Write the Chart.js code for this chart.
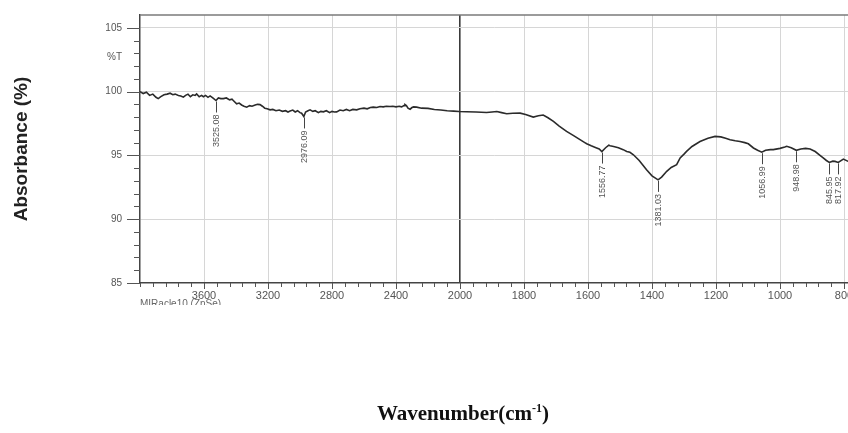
<!DOCTYPE html>
<html>
<head>
<meta charset="utf-8">
<script src="https://cdn.jsdelivr.net/npm/chart.js@4.4.0/dist/chart.umd.min.js"></script>
<style>
  html, body { margin: 0; padding: 0; background: #fff; }
  #ftirChart { display: block; }
</style>
</head>
<body>
<canvas id="ftirChart" width="848" height="433"></canvas>
<script>
// spectrum, high to low wavenumber (cm-1)
const wavenumbers = [
  4000, 3980, 3960, 3940, 3920, 3900, 3886, 3870, 3850, 3830,
  3812, 3795, 3780, 3760, 3745, 3729, 3715, 3700, 3685, 3670,
  3655, 3646, 3630, 3615, 3604, 3590, 3575, 3562, 3545, 3525.08,
  3510, 3495, 3479, 3460, 3440, 3425, 3417, 3396, 3380, 3365,
  3350, 3333, 3315, 3300, 3280, 3265, 3250, 3235, 3220, 3205,
  3187, 3170, 3150, 3130, 3110, 3090, 3075, 3062, 3045, 3030,
  3015, 3000, 2990, 2976.09, 2965, 2950, 2937, 2920, 2905, 2885,
  2870, 2854, 2835, 2815, 2800, 2785, 2771, 2750, 2730, 2710,
  2690, 2670, 2646, 2625, 2600, 2580, 2560, 2542, 2520, 2500,
  2480, 2460, 2437, 2420, 2400, 2380, 2365, 2350, 2344, 2335,
  2325, 2312, 2300, 2290, 2271, 2240, 2200, 2160, 2120, 2080,
  2040, 2006, 1980, 1950, 1917, 1900, 1885, 1870, 1854, 1835,
  1812, 1795, 1771, 1755, 1740, 1725, 1708, 1690, 1667, 1645,
  1625, 1610, 1604, 1590, 1575, 1565, 1556.77, 1545, 1535, 1531,
  1520, 1505, 1490, 1479, 1469, 1458, 1440, 1417, 1400, 1381.03,
  1370, 1354, 1340, 1323, 1312, 1300, 1292, 1275, 1250, 1225,
  1203, 1185, 1170, 1156, 1140, 1125, 1110, 1099, 1083, 1070,
  1056.99, 1045, 1030, 1021, 1000, 985, 979, 965, 948.98, 935,
  920, 906, 890, 875, 865, 855, 845.95, 835, 828, 817.92,
  802, 787
];
const transmittance = [
  100.0, 99.85, 99.95, 99.7, 99.8, 99.55, 99.45, 99.6, 99.75, 99.8,
  99.87, 99.75, 99.8, 99.7, 99.65, 99.56, 99.7, 99.8, 99.6, 99.75,
  99.7, 99.82, 99.6, 99.7, 99.6, 99.7, 99.55, 99.66, 99.5, 99.3,
  99.5, 99.45, 99.45, 99.5, 99.35, 99.4, 99.3, 99.04, 99.1, 98.95,
  98.85, 98.78, 98.9, 98.85, 98.95, 99.0, 98.98, 98.85, 98.7, 98.65,
  98.57, 98.6, 98.5, 98.55, 98.45, 98.5, 98.4, 98.47, 98.55, 98.4,
  98.5, 98.35, 98.3, 98.05, 98.4, 98.5, 98.57, 98.45, 98.5, 98.35,
  98.45, 98.41, 98.5, 98.35, 98.45, 98.4, 98.41, 98.55, 98.5, 98.6,
  98.5, 98.6, 98.57, 98.65, 98.7, 98.65, 98.75, 98.78, 98.75, 98.83,
  98.8, 98.85, 98.83, 98.85, 98.8, 98.85, 98.8, 98.9, 98.98, 98.9,
  98.7, 98.62, 98.75, 98.8, 98.78, 98.7, 98.68, 98.6, 98.55, 98.5,
  98.47, 98.44, 98.42, 98.4, 98.36, 98.4, 98.44, 98.35, 98.26, 98.3,
  98.31, 98.2, 98.0, 98.1, 98.16, 97.95, 97.66, 97.3, 96.88, 96.55,
  96.23, 96.0, 95.91, 95.75, 95.6, 95.5, 95.3, 95.6, 95.8, 95.76,
  95.7, 95.6, 95.45, 95.31, 95.24, 95.05, 94.6, 93.88, 93.4, 93.08,
  93.3, 93.75, 94.05, 94.27, 94.8, 95.1, 95.31, 95.7, 96.09, 96.35,
  96.49, 96.45, 96.35, 96.23, 96.15, 96.09, 96.0, 95.91, 95.58, 95.4,
  95.25, 95.4, 95.45, 95.45, 95.55, 95.65, 95.71, 95.6, 95.4, 95.5,
  95.55, 95.5, 95.3, 95.0, 94.8, 94.6, 94.45, 94.55, 94.53, 94.45,
  94.71, 94.53
];
// picked peaks (labelled under the trace)
const peakWavenumbers = [3525.08, 2976.09, 1556.77, 1381.03, 1056.99, 948.98, 845.95, 817.92];

// axes
const xMajorTicks = [3600, 3200, 2800, 2400, 2000, 1800, 1600, 1400, 1200, 1000, 800];
const yMajorTicks = [85, 90, 95, 100, 105];
const yUnitTick = 102.7;
const splitAt = 2000;
const xMin = 787.5, xMax = 4000;
const yMin = 85, yMax = 106;

// wavenumber axis: everything above 2000 cm-1 is squeezed to half scale
function splitPos(v) {
  return v >= splitAt ? splitAt + (v - splitAt) / 2 : v;
}
function splitInv(p) {
  return p >= splitAt ? splitAt + (p - splitAt) * 2 : p;
}
class SplitScale extends Chart.LinearScale {
  getPixelForValue(value) {
    const a = splitPos(this.min), b = splitPos(this.max);
    return this.getPixelForDecimal((splitPos(value) - a) / (b - a));
  }
  getValueForPixel(pixel) {
    const a = splitPos(this.min), b = splitPos(this.max);
    return splitInv(a + this.getDecimalForPixel(pixel) * (b - a));
  }
}
SplitScale.id = 'split';
SplitScale.defaults = {};
Chart.register(SplitScale);

const ftirDecor = {
  id: 'ftirDecor',
  afterDraw(chart) {
    const ctx = chart.ctx;
    const area = chart.chartArea;
    const x = chart.scales.x, y = chart.scales.y;
    ctx.save();

    // frame top
    ctx.strokeStyle = '#7a7a7a';
    ctx.lineWidth = 1.5;
    ctx.beginPath();
    ctx.moveTo(area.left, area.top);
    ctx.lineTo(area.right, area.top);
    ctx.stroke();

    // tick marks, long on the labelled values
    ctx.strokeStyle = '#555';
    ctx.lineWidth = 1;
    ctx.beginPath();
    for (let w = xMax; w >= xMin; w -= (w > splitAt ? 80 : 40)) {
      const px = Math.round(x.getPixelForValue(w)) + 0.5;
      const len = xMajorTicks.includes(w) ? 6 : 4;
      ctx.moveTo(px, area.bottom);
      ctx.lineTo(px, area.bottom + len);
    }
    for (let v = yMin; v <= 105; v += 1) {
      const py = Math.round(y.getPixelForValue(v)) + 0.5;
      const len = yMajorTicks.includes(v) ? 13 : 6;
      ctx.moveTo(area.left - len, py);
      ctx.lineTo(area.left, py);
    }
    ctx.stroke();

    // peak markers
    ctx.font = '9px "Liberation Sans", Arial, sans-serif';
    ctx.fillStyle = '#555';
    ctx.strokeStyle = '#444';
    peakWavenumbers.forEach(w => {
      const i = wavenumbers.indexOf(w);
      const px = Math.round(x.getPixelForValue(w)) + 0.5;
      const py = y.getPixelForValue(transmittance[i]);
      ctx.beginPath();
      ctx.moveTo(px, py + 1);
      ctx.lineTo(px, py + 12);
      ctx.stroke();
      ctx.save();
      ctx.translate(px, py + 14);
      ctx.rotate(-Math.PI / 2);
      ctx.textAlign = 'right';
      ctx.textBaseline = 'middle';
      ctx.fillText(w.toFixed(2), 0, 0);
      ctx.restore();
    });

    // accessory name under the axis, cut off at the frame edge
    ctx.save();
    ctx.beginPath();
    ctx.rect(area.left - 5, area.bottom + 13, 150, 9);
    ctx.clip();
    ctx.font = '10px "Liberation Sans", Arial, sans-serif';
    ctx.fillStyle = '#666';
    ctx.textAlign = 'left';
    ctx.textBaseline = 'alphabetic';
    ctx.fillText('MIRacle10 (ZnSe)', area.left, area.bottom + 24);
    ctx.restore();

    // x title with superscript
    const main = 'Wavenumber(cm', sup = '-1', close = ')';
    const bigFont = 'bold 21px "Liberation Serif", "Times New Roman", serif';
    const smallFont = 'bold 12px "Liberation Serif", "Times New Roman", serif';
    ctx.fillStyle = '#111';
    ctx.textAlign = 'left';
    ctx.textBaseline = 'alphabetic';
    ctx.font = bigFont;
    const w1 = ctx.measureText(main).width, w3 = ctx.measureText(close).width;
    ctx.font = smallFont;
    const w2 = ctx.measureText(sup).width;
    let tx = 463 - (w1 + w2 + w3) / 2;
    const base = 420;
    ctx.font = bigFont;
    ctx.fillText(main, tx, base);
    tx += w1;
    ctx.font = smallFont;
    ctx.fillText(sup, tx, base - 8);
    tx += w2;
    ctx.font = bigFont;
    ctx.fillText(close, tx, base);

    ctx.restore();
  }
};

const points = wavenumbers.map((w, i) => ({ x: w, y: transmittance[i] }));

new Chart(document.getElementById('ftirChart').getContext('2d'), {
  type: 'line',
  data: {
    datasets: [{
      data: points,
      borderColor: '#2b2b2b',
      borderWidth: 1.6,
      pointRadius: 0,
      tension: 0,
      fill: false
    }]
  },
  options: {
    responsive: false,
    animation: false,
    devicePixelRatio: 1,
    layout: { padding: { top: 15, right: 0, bottom: 0, left: 0 } },
    plugins: {
      legend: { display: false },
      tooltip: { enabled: false }
    },
    scales: {
      x: {
        type: 'split',
        position: 'bottom',
        reverse: true,
        min: xMin,
        max: xMax,
        afterBuildTicks: s => { s.ticks = xMajorTicks.map(v => ({ value: v })); },
        afterFit: s => { s.height = 150; s.paddingLeft = 0; s.paddingRight = 0; },
        ticks: {
          autoSkip: false,
          maxRotation: 0,
          padding: 6,
          color: '#555',
          font: { family: '"Liberation Sans", Arial, sans-serif', size: 11 },
          callback: v => String(v)
        },
        grid: {
          drawTicks: false,
          color: c => (c.tick && c.tick.value === splitAt) ? '#3a3a3a' : '#d6d6d6',
          lineWidth: c => (c.tick && c.tick.value === splitAt) ? 1.6 : 1
        },
        border: { display: true, color: '#444', width: 1.5 }
      },
      y: {
        min: yMin,
        max: yMax,
        afterBuildTicks: s => { s.ticks = yMajorTicks.concat([yUnitTick]).map(v => ({ value: v })); },
        afterFit: s => { s.width = 140; s.paddingTop = 0; s.paddingBottom = 0; },
        ticks: {
          autoSkip: false,
          padding: 18,
          color: '#555',
          font: { family: '"Liberation Sans", Arial, sans-serif', size: 10 },
          callback: v => v === yUnitTick ? '%T' : String(v)
        },
        grid: {
          drawTicks: false,
          color: c => (c.tick && (c.tick.value === yUnitTick || c.tick.value === yMin)) ? 'rgba(0,0,0,0)' : '#d6d6d6'
        },
        border: { display: true, color: '#444', width: 1.5 },
        title: {
          display: true,
          text: 'Absorbance (%)',
          color: '#222',
          font: { family: '"Liberation Sans", Arial, sans-serif', size: 19, weight: 'bold' },
          padding: { top: 10, bottom: 0 }
        }
      }
    }
  },
  plugins: [ftirDecor]
});
</script>
</body>
</html>
